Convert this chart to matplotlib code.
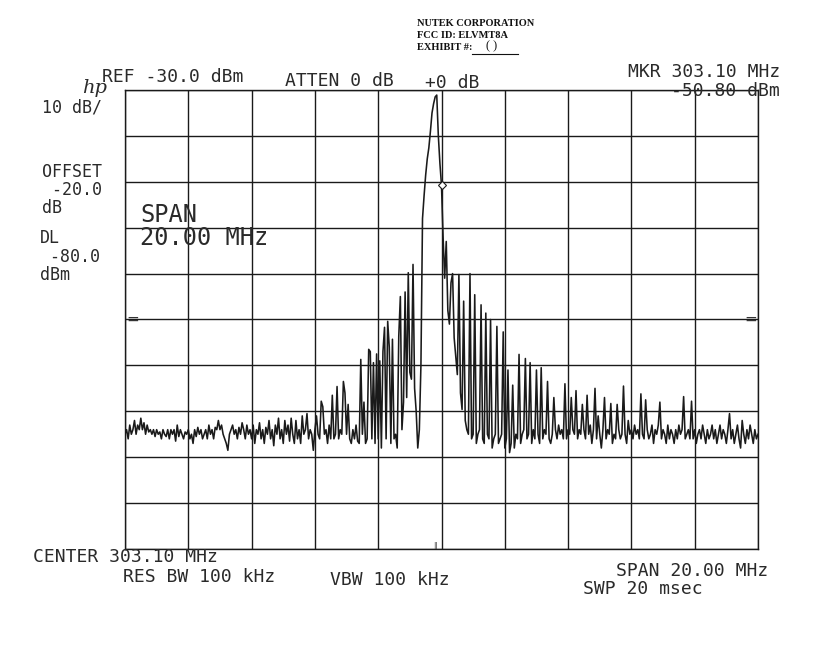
import numpy as np
import matplotlib
matplotlib.use("Agg")
import matplotlib.pyplot as plt

# analyzer settings
center_mhz = 303.10
span_mhz = 20.0
ref_dbm = -30.0
db_per_div = 10
marker_mhz = 303.10
marker_dbm = -50.80

# trace levels (dBm), 401 points across the span
levels = [
    -105, -104, -106, -103, -105, -104, -102, -105, -103, -104,
    -101.5, -104, -102.5, -105, -103, -104.5, -104, -105, -104, -105.5,
    -104, -105, -104.5, -106, -104, -105, -105.5, -104, -106, -104,
    -105, -104, -106.5, -103, -105.5, -104, -105, -106, -104.5, -105,
    -104, -106, -105, -107, -104, -105.5, -103.5, -105, -104, -106,
    -105, -104, -106, -103, -105, -104, -106, -103.5, -104, -102,
    -104, -103, -105, -106, -107, -108.5, -105, -104, -103, -105,
    -104, -106, -103.5, -105, -102.5, -104, -106, -103, -105, -104,
    -106, -103, -107, -104, -105, -102.5, -106, -104, -107, -103.5,
    -105, -102, -106, -104, -107.5, -103, -105, -101.5, -106, -104,
    -107, -102, -105, -103, -106.5, -101.5, -105, -107, -102, -106,
    -104, -107, -101, -105, -104, -100.5, -106, -104, -105, -108.5,
    -104, -101, -105, -106, -97.8, -99, -105, -104, -107, -103,
    -106, -96.5, -106, -105, -94.6, -106, -104, -105, -93.5, -96,
    -105, -98.5, -106, -107, -104, -106, -103, -106.5, -107, -88.7,
    -105, -98, -107, -106, -86.5, -87, -106, -89.4, -107, -87.5,
    -106, -89, -108, -87, -81.7, -106, -80.4, -86, -107, -84.3,
    -106, -105, -108, -83.6, -75, -104, -98, -74, -97, -69.8,
    -91.5, -93, -68, -95, -100, -108, -104, -90, -58, -53,
    -48.5, -45, -42.6, -39, -35, -33, -31.5, -31.1, -40, -46,
    -50.8, -62, -71, -63, -78, -81, -72, -70, -84, -88,
    -92, -70.2, -96, -99.6, -76, -102, -104, -105, -70, -106,
    -105, -74.6, -107, -105, -104, -76.8, -106, -107, -78.6, -105,
    -106, -80, -108, -106, -105, -81.5, -107, -106, -105, -82.7,
    -108, -106, -91, -109, -107, -94.3, -108, -105, -106, -87.6,
    -107, -105, -104, -88.5, -106, -105, -89.4, -107, -104, -106,
    -91, -105, -107, -90.5, -106, -104, -105, -93.5, -106, -107,
    -105, -97, -104, -106, -103, -105, -104, -106, -94, -106,
    -104, -105, -97, -104, -105, -95.5, -106, -104, -105, -98.5,
    -104, -106, -96.5, -105, -103, -107, -104, -95, -106, -101,
    -105, -108, -104, -97, -106, -104, -105, -98.3, -107, -105,
    -106, -98.5, -104, -106, -105, -94.5, -105, -107, -102, -105,
    -104, -106, -103, -105, -104, -106, -96.2, -105, -106, -97.5,
    -104, -106, -105, -103, -107, -104, -105, -103, -98, -106,
    -104, -105, -107, -103, -106, -104, -105, -107, -104, -106,
    -103, -105, -104, -96.8, -106, -105, -104, -106, -97.8, -106,
    -104, -107, -105, -104, -106, -103, -105, -107, -104, -106,
    -105, -103, -106, -104, -107, -105, -103, -106, -104, -105,
    -107, -104, -100.5, -106, -104, -107, -105, -103, -106, -108,
    -102, -105, -107, -104, -106, -103, -105, -107, -104, -106,
    -105,
]
assert len(levels) == 401

freqs = np.linspace(center_mhz - span_mhz / 2, center_mhz + span_mhz / 2, len(levels))
bottom_dbm = ref_dbm - 10 * db_per_div
dl_dbm = -80.0

fig = plt.figure(figsize=(8.19, 6.5), dpi=100)
fig.patch.set_facecolor("white")
ax = fig.add_axes([125 / 819, 1 - 549 / 650, 633 / 819, 459 / 650])

ink = "#1a1a1a"
ax.plot(freqs, levels, color=ink, lw=1.15)
ax.plot([marker_mhz], [marker_dbm], marker="D", ms=4, mfc="white", mec=ink, mew=0.8)

ax.set_xlim(freqs[0], freqs[-1])
ax.set_ylim(bottom_dbm, ref_dbm)
ax.set_xticks(np.linspace(freqs[0], freqs[-1], 11))
ax.set_yticks(np.linspace(bottom_dbm, ref_dbm, 11))
ax.grid(True, color=ink, lw=1.0)
ax.tick_params(length=0, labelbottom=False, labelleft=False)
for s in ax.spines.values():
    s.set_color(ink)
    s.set_linewidth(1.0)

# display line marks at both edges, centre mark at bottom
ax.text(0.002, dl_dbm, "=", transform=ax.get_yaxis_transform(), ha="left", va="center",
        fontsize=11, color="#333333")
ax.text(0.998, dl_dbm, "=", transform=ax.get_yaxis_transform(), ha="right", va="center",
        fontsize=11, color="#333333")
ax.text(center_mhz - 0.2, bottom_dbm, "||", ha="center", va="bottom", fontsize=5,
        color="#333333")

mono = "DejaVu Sans Mono"
col = "#2a2a2a"


def label(xp, yp, s, size=13, ha="left", **kw):
    fig.text(xp / 819, 1 - yp / 650, s, ha=ha, va="center", fontsize=size,
             family=mono, color=col, **kw)


# header
fig.text(82 / 819, 1 - 88 / 650, "hp", fontsize=14, style="italic", family="DejaVu Serif",
         color=col, va="center")
label(102, 77, "REF -30.0 dBm")
label(285, 81, "ATTEN 0 dB")
label(425, 83, "+0 dB")
label(780, 72, "MKR 303.10 MHz", ha="right")
label(780, 91, "-50.80 dBm", ha="right")

# left annotations
label(42, 107, "10 dB/", size=12)
label(42, 172, "OFFSET", size=12)
label(42, 190, " -20.0", size=12)
label(42, 208, "dB", size=12)
label(40, 238, "DL", size=12)
label(40, 257, " -80.0", size=12)
label(40, 275, "dBm", size=12)

# span inside the grid
label(140, 215, "SPAN", size=17)
label(140, 238, "20.00 MHz", size=17)

# bottom annotations
label(33, 557, "CENTER 303.10 MHz")
label(123, 577, "RES BW 100 kHz")
label(330, 580, "VBW 100 kHz")
label(768, 571, "SPAN 20.00 MHz", ha="right")
label(583, 589, "SWP 20 msec")

# exhibit sticker
serif = "Liberation Serif"
fig.text(417 / 819, 1 - 24 / 650, "NUTEK CORPORATION", fontsize=7.5, family=serif,
         weight="bold", color="#111111", va="center")
fig.text(417 / 819, 1 - 36 / 650, "FCC ID: ELVMT8A", fontsize=7.5, family=serif,
         weight="bold", color="#111111", va="center")
fig.text(417 / 819, 1 - 48 / 650, "EXHIBIT #:", fontsize=7.5, family=serif,
         weight="bold", color="#111111", va="center")
fig.text(486 / 819, 1 - 46 / 650, "( )", fontsize=9, family=serif, color="#111111", va="center")
fig.add_artist(plt.Line2D([472 / 819, 518 / 819], [1 - 54 / 650, 1 - 54 / 650],
                          color="#111111", lw=0.8))

fig.savefig("out.png", dpi=100, facecolor="white")
